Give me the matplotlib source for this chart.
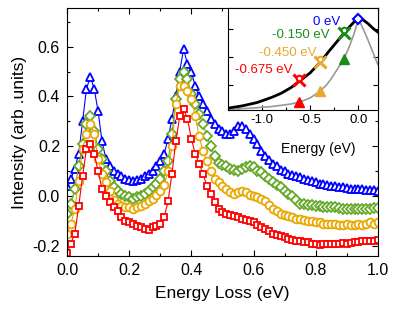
import numpy as np
import matplotlib
matplotlib.use('Agg')
import matplotlib.pyplot as plt
from matplotlib.ticker import MultipleLocator

plt.rcParams['font.family'] = ['Liberation Sans', 'DejaVu Sans']
plt.rcParams['axes.unicode_minus'] = False

# energy loss grid (eV)
energy = np.round(np.arange(81) * 0.0125, 4)

blue_0 = [0.04, 0.07, 0.11, 0.17, 0.30, 0.43, 0.48, 0.43, 0.34, 0.22,
          0.15, 0.12, 0.10, 0.09, 0.08, 0.07, 0.065, 0.06, 0.065, 0.07,
          0.08, 0.09, 0.10, 0.12, 0.14, 0.17, 0.23, 0.31, 0.40, 0.50,
          0.59, 0.53, 0.50, 0.44, 0.40, 0.37, 0.34, 0.31, 0.29, 0.27,
          0.26, 0.25, 0.25, 0.26, 0.28, 0.28, 0.27, 0.25, 0.23, 0.21,
          0.18, 0.16, 0.145, 0.13, 0.12, 0.105, 0.10, 0.09, 0.085, 0.08,
          0.075, 0.07, 0.065, 0.06, 0.055, 0.05, 0.048, 0.045, 0.042, 0.04,
          0.038, 0.035, 0.033, 0.03, 0.03, 0.028, 0.027, 0.025, 0.025, 0.023,
          0.022]

green_150 = [-0.07, -0.03, 0.03, 0.12, 0.21, 0.29, 0.32, 0.26, 0.19, 0.15,
             0.10, 0.06, 0.035, 0.02, 0.01, 0.0, -0.005, -0.01, -0.005, 0.0,
             0.01, 0.02, 0.035, 0.05, 0.07, 0.10, 0.14, 0.25, 0.39, 0.47,
             0.50, 0.47, 0.41, 0.37, 0.33, 0.29, 0.24, 0.20, 0.16, 0.135,
             0.125, 0.12, 0.11, 0.105, 0.10, 0.11, 0.115, 0.12, 0.115, 0.10,
             0.095, 0.08, 0.07, 0.055, 0.045, 0.035, 0.02, 0.01, 0.0, -0.015,
             -0.03, -0.032, -0.035, -0.037, -0.04, -0.04, -0.042, -0.043, -0.045, -0.045,
             -0.048, -0.05, -0.05, -0.052, -0.053, -0.05, -0.053, -0.05, -0.05, -0.048,
             -0.047]

orange_450 = [-0.15, -0.11, -0.05, 0.06, 0.19, 0.25, 0.29, 0.25, 0.15, 0.09,
              0.055, 0.02, -0.015, -0.03, -0.04, -0.045, -0.045, -0.05, -0.045, -0.04,
              -0.03, -0.02, -0.01, 0.005, 0.02, 0.045, 0.10, 0.20, 0.37, 0.44,
              0.44, 0.42, 0.39, 0.32, 0.24, 0.18, 0.14, 0.10, 0.07, 0.055,
              0.04, 0.03, 0.015, 0.01, 0.015, 0.02, 0.015, 0.005, 0.0, -0.005,
              -0.01, -0.02, -0.035, -0.05, -0.06, -0.07, -0.075, -0.08, -0.085, -0.09,
              -0.093, -0.095, -0.10, -0.10, -0.105, -0.105, -0.11, -0.11, -0.113, -0.113,
              -0.115, -0.115, -0.113, -0.115, -0.115, -0.11, -0.115, -0.11, -0.105, -0.11,
              -0.105]

red_675 = [-0.23, -0.19, -0.15, -0.04, 0.08, 0.19, 0.21, 0.17, 0.10, 0.03,
           0.0, -0.025, -0.045, -0.06, -0.085, -0.10, -0.105, -0.11, -0.12, -0.125,
           -0.13, -0.135, -0.125, -0.12, -0.11, -0.085, -0.02, 0.09, 0.22, 0.32,
           0.35, 0.31, 0.23, 0.17, 0.13, 0.09, 0.04, 0.01, -0.025, -0.05,
           -0.065, -0.07, -0.075, -0.08, -0.085, -0.09, -0.095, -0.10, -0.105, -0.115,
           -0.125, -0.13, -0.14, -0.15, -0.155, -0.16, -0.165, -0.17, -0.175, -0.178,
           -0.18, -0.183, -0.185, -0.19, -0.193, -0.195, -0.193, -0.19, -0.192, -0.19,
           -0.19, -0.188, -0.19, -0.187, -0.185, -0.183, -0.18, -0.18, -0.178, -0.178,
           -0.177]

# inset: energy (eV) vs normalized intensity
black_x = [-1.35, -1.2, -1.05, -0.9, -0.8, -0.7, -0.61, -0.5, -0.4, -0.3,
           -0.22, -0.15, -0.09, -0.04, 0.0, 0.05, 0.1, 0.15, 0.2]
black_y = [0.05, 0.075, 0.11, 0.165, 0.21, 0.27, 0.34, 0.43, 0.54, 0.67,
           0.77, 0.86, 0.93, 0.985, 1.01, 1.0, 0.96, 0.91, 0.87]
gray_x = [-1.35, -1.2, -1.05, -0.92, -0.8, -0.7, -0.61, -0.5, -0.4, -0.33,
          -0.28, -0.2, -0.15, -0.1, -0.05, 0.0, 0.05, 0.1, 0.15, 0.2]
gray_y = [0.035, 0.045, 0.055, 0.065, 0.08, 0.095, 0.115, 0.16, 0.23, 0.30,
          0.37, 0.50, 0.58, 0.70, 0.84, 1.01, 0.90, 0.78, 0.65, 0.52]
pts_x = [-0.15, -0.40, -0.61]
pts_cross = [0.86, 0.55, 0.35]
pts_tri = [0.575, 0.233, 0.115]

labels = ['0 eV', '-0.150 eV', '-0.450 eV', '-0.675 eV']
main_colors = ['#0000FF', '#66A82A', '#E8A800', '#FF0000']
inset_colors = ['#0000FF', '#1A8C1A', '#E8A830', '#FF0000']

fig = plt.figure(figsize=(3.99, 3.18), dpi=100)
ax = fig.add_axes([0.168, 0.195, 0.779, 0.78])

series = [blue_0, green_150, orange_450, red_675]
markers = ['^', 'D', 'o', 's']
msizes = [6.2, 4.8, 5.6, 5.0]
for vals, col, mk, ms in zip(series, main_colors, markers, msizes):
    ax.plot(energy, vals, color=col, lw=0.8, marker=mk, ms=ms,
            mfc='white', mec=col, mew=1.3)

ax.set_xlim(0, 1.0)
ax.set_ylim(-0.24, 0.755)
ax.xaxis.set_major_locator(MultipleLocator(0.2))
ax.xaxis.set_minor_locator(MultipleLocator(0.1))
ax.yaxis.set_major_locator(MultipleLocator(0.2))
ax.yaxis.set_minor_locator(MultipleLocator(0.1))
ax.xaxis.set_major_formatter(matplotlib.ticker.FormatStrFormatter('%.1f'))
ax.yaxis.set_major_formatter(matplotlib.ticker.FormatStrFormatter('%.1f'))
ax.tick_params(which='both', direction='in', top=True, right=True,
               labelsize=11.5, width=0.8)
ax.tick_params(which='major', length=4, pad=5)
ax.tick_params(which='minor', length=2.5)
ax.set_xlabel('Energy Loss (eV)', fontsize=12.5, labelpad=6)
ax.set_ylabel('Intensity (arb .units)', fontsize=12.5, labelpad=4)

# inset
axin = fig.add_axes([0.571, 0.654, 0.376, 0.321])
axin.plot(gray_x, gray_y, color='#999999', lw=1.2)
axin.plot(black_x, black_y, color='black', lw=2)
axin.plot([0.0], [1.01], marker='D', ms=5.5, mfc='white', mec='#0000FF',
          mew=1.5, ls='none')
for i in range(3):
    col = inset_colors[i + 1]
    axin.plot(pts_x[i], pts_cross[i], marker='x', ms=8, mec=col, mew=2.2,
              ls='none')
    axin.plot(pts_x[i], pts_cross[i] + 0.03, marker='o', ms=4, mfc='white',
              mec=col, mew=1.5, ls='none')
    axin.plot(pts_x[i], pts_tri[i], marker='^', ms=7, color=col, ls='none')

axin.set_xlim(-1.35, 0.2)
axin.set_ylim(0.03, 1.13)
axin.set_xticks([-1.0, -0.5, 0.0])
axin.xaxis.set_minor_locator(MultipleLocator(0.25))
axin.set_xticklabels(['-1.0', '-0.5', '0.0'])
axin.set_yticks([0.3, 0.6, 0.9])
axin.set_yticklabels([])
axin.tick_params(which='both', direction='in', right=True, labelsize=9.5,
                 width=0.8, pad=3)
axin.tick_params(which='major', length=3.5)
axin.tick_params(which='minor', length=2)
axin.set_xlabel('Energy (eV)', fontsize=10)
axin.xaxis.set_label_coords(0.6, -0.31)

label_pos = [(0.567, 0.864), (0.293, 0.738), (0.207, 0.563), (0.047, 0.388)]
for txt, col, (tx, ty) in zip(labels, inset_colors, label_pos):
    axin.text(tx, ty, txt, color=col, fontsize=9.5, ha='left', va='center',
              transform=axin.transAxes)

fig.savefig('out.png', dpi=100)
